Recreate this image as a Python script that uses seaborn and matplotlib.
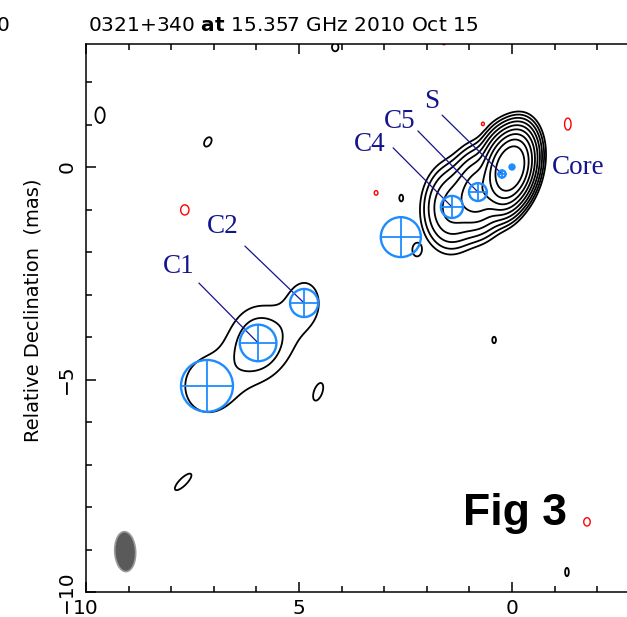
import numpy as np
import matplotlib
matplotlib.use("Agg")
import matplotlib.pyplot as plt
import seaborn as sns
import pandas as pd
from matplotlib.patches import Circle, Ellipse
from matplotlib.ticker import MultipleLocator, FixedLocator

# ---------------- data (relative RA / Dec in mas) ----------------
# model-fit components
comp_names = ["Core", "S", "C5", "C4", "X", "C2", "C1", "D"]
comp_x = [0.0, 0.235, 0.80, 1.41, 2.61, 4.88, 5.96, 7.16]
comp_y = [0.0, -0.165, -0.59, -0.94, -1.65, -3.20, -4.14, -5.15]
comp_fwhm = [0.0, 0.17, 0.42, 0.52, 0.94, 0.66, 0.86, 1.22]
comp_peak = [1.15, 0.30, 0.10, 0.040, 0.0003, 0.0031, 0.0066, 0.0030]

# extra diffuse emission in the outer jet (x, y, peak, sigma)
diffuse_x = [5.30, 6.55]
diffuse_y = [-3.95, -4.85]
diffuse_peak = [0.0012, 0.0010]
diffuse_sigma = [0.35, 0.35]

# core shape (gaussian sigma, mas; PA deg)
core_smaj, core_smin, core_pa = 0.37, 0.215, -12.0

# restoring beam (FWHM mas, PA deg) and its position
beam_maj, beam_min, beam_pa = 0.94, 0.49, -3.0
beam_x, beam_y = 9.08, -9.05

# small residual islands (sign: +1 black, -1 red)
noise_x = [9.67, 7.14, 4.15, 1.60, 0.68, -1.31, 3.19, 2.60, 7.68, 2.23, 0.42, 4.55, 7.72, -1.76, -1.29]
noise_y = [1.22, 0.59, 2.82, 2.92, 1.01, 1.01, -0.61, -0.73, -1.01, -1.95, -4.07, -5.29, -7.41, -8.35, -9.53]
noise_sign = [1, 1, 1, -1, -1, -1, -1, 1, -1, 1, 1, 1, 1, -1, 1]
noise_smaj = [0.17, 0.11, 0.09, 0.04, 0.05, 0.13, 0.05, 0.07, 0.11, 0.13, 0.07, 0.20, 0.24, 0.09, 0.09]
noise_smin = [0.10, 0.07, 0.07, 0.04, 0.04, 0.07, 0.04, 0.04, 0.09, 0.09, 0.04, 0.09, 0.08, 0.07, 0.04]
noise_pa = [0, -30, 0, 0, 0, 0, 0, 0, 0, 0, 0, -20, -45, 0, 0]

# component labels and leader-line start points
label_names = ["Core", "S", "C5", "C4", "C2", "C1"]
label_x = [-1.55, 1.88, 2.63, 3.33, 6.78, 7.82]
label_y = [-0.02, 1.55, 1.08, 0.54, -1.39, -2.33]
leader_comp = ["", "S", "C5", "C4", "C2", "C1"]
leader_x0 = [None, 1.64, 2.21, 2.79, 6.27, 7.35]
leader_y0 = [None, 1.22, 0.85, 0.45, -1.86, -2.73]

# contour levels (fraction of peak)
base_level = 0.002
n_levels = 9
island_factor = 1.8

x_ticks = [10, 5, 0]
y_ticks = [-10, -5, 0]

title_text = r"0321+340 $\mathbf{at}$ 15.357 GHz 2010 Oct 15"

# ---------------- build brightness map ----------------
gx = np.linspace(-3.2, 10.5, 1100)
gy = np.linspace(-10.5, 3.5, 1120)
X, Y = np.meshgrid(gx, gy)


def gauss(x0, y0, amp, smaj, smin, pa_deg):
    t = np.deg2rad(pa_deg)
    dx, dy = X - x0, Y - y0
    along = dx * np.sin(t) + dy * np.cos(t)
    across = dx * np.cos(t) - dy * np.sin(t)
    return amp * np.exp(-0.5 * ((along / smaj) ** 2 + (across / smin) ** 2))


bsmaj, bsmin = beam_maj / 2.3548, beam_min / 2.3548
F = np.zeros_like(X)
for i, (cx, cy, fw, pk) in enumerate(zip(comp_x, comp_y, comp_fwhm, comp_peak)):
    if i == 0:
        F += gauss(cx, cy, pk, core_smaj, core_smin, core_pa)
    else:
        sc = fw / 2.3548
        F += gauss(cx, cy, pk, np.hypot(bsmaj, sc), np.hypot(bsmin, sc), beam_pa)
for dx_, dy_, pk, sg in zip(diffuse_x, diffuse_y, diffuse_peak, diffuse_sigma):
    F += gauss(dx_, dy_, pk, np.hypot(bsmaj, sg), np.hypot(bsmin, sg), beam_pa)
for nx, ny, sg, a, b, p in zip(noise_x, noise_y, noise_sign, noise_smaj, noise_smin, noise_pa):
    F += gauss(nx, ny, sg * island_factor * base_level, a, b, p)

pos_levels = [base_level * 2 ** k for k in range(n_levels)]

# ---------------- figure ----------------
sns.set_style("ticks")
plt.rcParams["font.family"] = ["DejaVu Sans"]
plt.rcParams["mathtext.fontset"] = "dejavusans"
plt.rcParams["text.color"] = "black"
plt.rcParams["xtick.color"] = "black"
plt.rcParams["ytick.color"] = "black"
plt.rcParams["axes.labelcolor"] = "black"

W, H = 627, 617
fig = plt.figure(figsize=(W / 100, H / 100), dpi=100)
left_px, right_px, top_px, bot_px = 86, 627, 44, 592
ax = fig.add_axes([left_px / W, 1 - bot_px / H, (right_px - left_px) / W, (bot_px - top_px) / H])

ax.contour(X, Y, F, levels=pos_levels, colors="black", linewidths=1.3)
ax.contour(X, Y, F, levels=[-base_level], colors="red", linewidths=1.0, linestyles="solid")

blue = "#1E8CFF"
navy = "#14148C"
for name, cx, cy, fw in zip(comp_names, comp_x, comp_y, comp_fwhm):
    if fw <= 0:
        continue
    r = fw / 2
    ax.add_patch(Circle((cx, cy), r, fill=False, edgecolor=blue, lw=1.7, zorder=4))
    ax.plot([cx - r, cx + r], [cy, cy], color=blue, lw=1.3, zorder=4)
    ax.plot([cx, cx], [cy - r, cy + r], color=blue, lw=1.3, zorder=4)

core_df = pd.DataFrame({"x": comp_x[:1], "y": comp_y[:1]})
sns.scatterplot(data=core_df, x="x", y="y", ax=ax, s=28, color=blue, edgecolor="none", zorder=5, legend=False)
ax.set_xlabel("")
ax.set_ylabel("")

comp_lookup = dict(zip(comp_names, zip(comp_x, comp_y)))
for name, lx, ly, lc, x0, y0 in zip(label_names, label_x, label_y, leader_comp, leader_x0, leader_y0):
    ax.text(lx, ly, name, color=navy, fontsize=19.5, family="Liberation Serif",
            ha="center", va="center", zorder=6)
    if lc:
        cx, cy = comp_lookup[lc]
        ax.plot([x0, cx], [y0, cy], color=navy, lw=0.9, zorder=3)

ax.add_patch(Ellipse((beam_x, beam_y), beam_min, beam_maj, angle=beam_pa,
                     facecolor="#5a5a5a", edgecolor="#9a9a9a", lw=1.2, zorder=4))

ax.set_xlim(10, 10 - (right_px - left_px) / 42.6)
ax.set_ylim(-10, (167 - top_px) / 42.5)

# axes styling
for s in ["left", "bottom", "top"]:
    ax.spines[s].set_linewidth(1.1)
    ax.spines[s].set_color("black")
ax.spines["right"].set_visible(False)
ax.xaxis.set_major_locator(FixedLocator(x_ticks))
ax.yaxis.set_major_locator(FixedLocator(y_ticks))
ax.xaxis.set_minor_locator(MultipleLocator(1))
ax.yaxis.set_minor_locator(MultipleLocator(1))
ax.set_xticklabels([str(v) for v in x_ticks])
ax.set_yticklabels(["\u2212" + str(abs(v)) if v < 0 else str(v) for v in y_ticks],
                   rotation=90, va="center")
ax.tick_params(which="both", direction="in", top=True, right=False, color="black", width=1.1)
ax.tick_params(which="major", length=7.5, labelsize=14.5, pad=5, labelcolor="black")
ax.tick_params(which="minor", length=4.5)
ax.tick_params(axis="y", pad=7)

fig.text(33 / W, 1 - 310 / H, "Relative Declination  (mas)", rotation=90,
         ha="center", va="center", fontsize=14, color="black")
fig.text(88 / W, 1 - 31 / H, title_text, ha="left", va="baseline", fontsize=14.5, color="black")
fig.text(10 / W, 1 - 31 / H, "0", ha="right", va="baseline", fontsize=14.5, color="black")
fig.text(463 / W, 1 - 525 / H, "Fig 3", ha="left", va="baseline", fontsize=32,
         fontweight="bold", family="Liberation Sans", color="black")

fig.savefig("out.png", dpi=100)
